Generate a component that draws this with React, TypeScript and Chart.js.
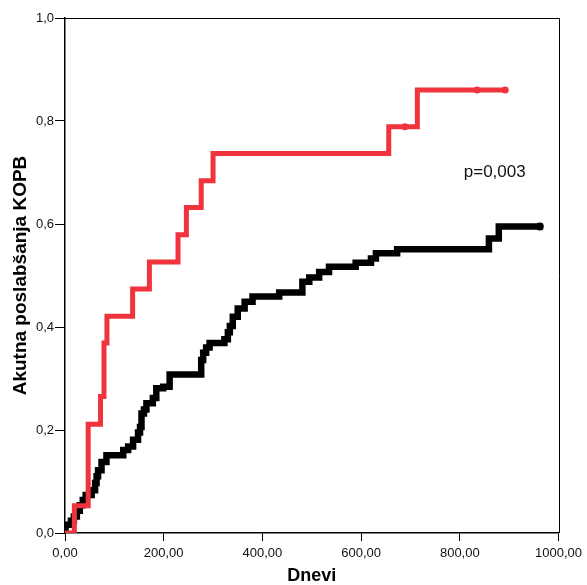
import React, { useEffect, useRef } from "react";
import { Chart, registerables } from "chart.js";

Chart.register(...registerables);

// Red group: event times (days) and cumulative incidence
const RED_DAYS = [0, 19, 47, 72, 79, 85, 137, 171, 229, 246, 276, 300, 656, 714, 892];
const RED_VALUES = [0, 0.053, 0.211, 0.265, 0.369, 0.421, 0.474, 0.526, 0.579, 0.632, 0.684, 0.737, 0.789, 0.86, 0.86];
const RED_CENSOR_DAYS = [689, 835, 892];
const RED_CENSOR_VALUES = [0.789, 0.86, 0.86];

// Black group
const BLACK_DAYS = [
  0, 1, 12, 18, 24, 30, 36, 42, 54, 61, 64, 67, 74, 84, 118, 128, 138, 148, 152, 155,
  160, 165, 178, 185, 199, 212, 276, 280, 286, 293, 323, 330, 334, 340, 350, 364, 380,
  434, 481, 495, 515, 535, 589, 620, 630, 673, 859, 879, 962,
];
const BLACK_VALUES = [
  0, 0.016, 0.024, 0.032, 0.043, 0.054, 0.064, 0.074, 0.083, 0.097, 0.11, 0.122, 0.138,
  0.151, 0.161, 0.168, 0.181, 0.195, 0.206, 0.232, 0.24, 0.252, 0.262, 0.281, 0.284,
  0.308, 0.336, 0.35, 0.36, 0.369, 0.376, 0.39, 0.402, 0.42, 0.436, 0.449, 0.459, 0.467,
  0.488, 0.496, 0.507, 0.517, 0.525, 0.533, 0.543, 0.551, 0.572, 0.595, 0.595,
];
const BLACK_CENSOR_DAYS = [962];
const BLACK_CENSOR_VALUES = [0.595];

const X_TICKS_MAX = 1000;
const X_STEP = 200;
const Y_STEP = 0.2;

const P_LABEL = "p=0,003";
const P_LABEL_DAY = 808;
const P_LABEL_VALUE = 0.692;

const Y_TITLE = "Akutna poslabšanja KOPB";
const X_TITLE = "Dnevi";

const RED = "#F0333D";
const FONT = "'Liberation Sans', Arial, sans-serif";

const toPoints = (xs: number[], ys: number[]) => xs.map((x, i) => ({ x, y: ys[i] }));

export default function App() {
  const ref = useRef<HTMLCanvasElement | null>(null);

  useEffect(() => {
    document.body.style.margin = "0";
    const canvas = ref.current;
    if (!canvas) return;

    const boxPlugin = {
      id: "boxPlugin",
      beforeDatasetsDraw(chart: any) {
        const { ctx, chartArea } = chart;
        ctx.save();
        ctx.strokeStyle = "#000";
        ctx.lineWidth = 1;
        ctx.beginPath();
        ctx.moveTo(chartArea.left, Math.round(chartArea.top) + 0.5);
        ctx.lineTo(Math.round(chartArea.right) + 0.5, Math.round(chartArea.top) + 0.5);
        ctx.lineTo(Math.round(chartArea.right) + 0.5, chartArea.bottom);
        ctx.stroke();
        ctx.restore();
      },
      afterDatasetsDraw(chart: any) {
        const { ctx, scales } = chart;
        ctx.save();
        ctx.fillStyle = "#111";
        ctx.font = `17px ${FONT}`;
        ctx.textAlign = "left";
        ctx.textBaseline = "alphabetic";
        ctx.fillText(P_LABEL, scales.x.getPixelForValue(P_LABEL_DAY), scales.y.getPixelForValue(P_LABEL_VALUE));
        ctx.restore();
      },
    };

    const chart = new Chart(canvas, {
      type: "line",
      data: {
        datasets: [
          {
            label: "red",
            data: toPoints(RED_DAYS, RED_VALUES),
            borderColor: RED,
            borderWidth: 5,
            stepped: "before",
            pointRadius: 0,
            fill: false,
            borderCapStyle: "square",
          },
          {
            label: "redCensor",
            data: toPoints(RED_CENSOR_DAYS, RED_CENSOR_VALUES),
            showLine: false,
            pointRadius: 3.5,
            pointBackgroundColor: RED,
            pointBorderColor: RED,
            pointBorderWidth: 0,
          },
          {
            label: "black",
            data: toPoints(BLACK_DAYS, BLACK_VALUES),
            borderColor: "#000",
            borderWidth: 6.5,
            stepped: "before",
            pointRadius: 0,
            fill: false,
            borderCapStyle: "square",
          },
          {
            label: "blackCensor",
            data: toPoints(BLACK_CENSOR_DAYS, BLACK_CENSOR_VALUES),
            showLine: false,
            pointRadius: 4,
            pointBackgroundColor: "#000",
            pointBorderColor: "#000",
            pointBorderWidth: 0,
          },
        ],
      },
      options: {
        responsive: false,
        animation: false,
        devicePixelRatio: 1,
        layout: { padding: { top: 18, right: 26, left: 0, bottom: 0 } },
        plugins: {
          legend: { display: false },
          tooltip: { enabled: false },
        },
        scales: {
          x: {
            type: "linear",
            min: 0,
            max: X_TICKS_MAX,
            afterFit: (s: any) => {
              s.height = 52;
            },
            ticks: {
              stepSize: X_STEP,
              padding: 5,
              color: "#111",
              font: { family: FONT, size: 13 },
              maxRotation: 0,
              callback: (v: any) => Number(v).toFixed(2).replace(".", ","),
            },
            grid: {
              display: true,
              drawOnChartArea: false,
              drawTicks: true,
              tickLength: 8,
              color: "#000",
              lineWidth: 1,
            },
            border: { display: true, color: "#000", width: 1.5 },
            title: {
              display: true,
              text: X_TITLE,
              color: "#000",
              font: { family: FONT, size: 18, weight: "bold", lineHeight: 1 },
              padding: { top: 0, bottom: 0 },
            },
          },
          y: {
            type: "linear",
            min: 0,
            max: 1,
            afterFit: (s: any) => {
              s.width = 65;
            },
            ticks: {
              stepSize: Y_STEP,
              padding: 1,
              color: "#111",
              font: { family: FONT, size: 13 },
              callback: (v: any) => Number(v).toFixed(1).replace(".", ","),
            },
            grid: {
              display: true,
              drawOnChartArea: false,
              drawTicks: true,
              tickLength: 10,
              color: "#000",
              lineWidth: 1,
            },
            border: { display: true, color: "#000", width: 1.5 },
            title: {
              display: true,
              text: Y_TITLE,
              color: "#000",
              font: { family: FONT, size: 19, weight: "bold", lineHeight: 1 },
              padding: { top: 11, bottom: 0 },
            },
          },
        },
      },
      plugins: [boxPlugin],
    } as any);

    return () => chart.destroy();
  }, []);

  return (
    <div style={{ position: "absolute", left: 0, top: 0, width: 587, height: 585, background: "#fff" }}>
      <canvas ref={ref} width={587} height={585} style={{ display: "block" }} />
    </div>
  );
}
